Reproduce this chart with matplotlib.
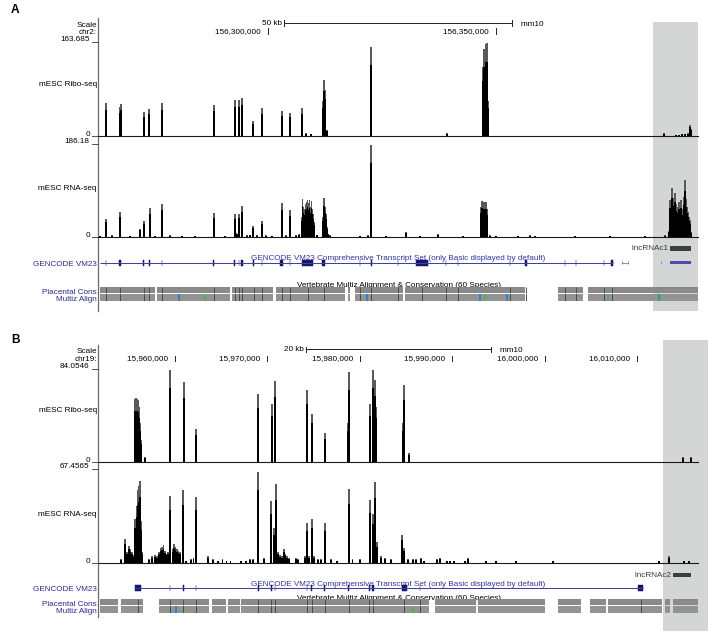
import matplotlib
matplotlib.use('Agg')
import matplotlib.pyplot as plt
from matplotlib.transforms import blended_transform_factory
from matplotlib.patches import Rectangle

plt.rcParams['font.family'] = ['Liberation Sans', 'DejaVu Sans']

# ======================= DATA =======================
# ---- Panel A : chr2 (positions in kb) ----
A_range = (156262.72, 156394.30)
A_ruler_ticks = [156300, 156350]
A_scale_start, A_scale_len = 156303.5, 50
A_highlight = (156384.5, 156394.4)
A_ribo_max = 163.685
A_rna_max = 186.18

A_ribo = [(156264.54, 57), (156267.55, 50), (156267.70, 56), (156272.81, 41), (156273.97, 47),
          (156276.82, 57), (156288.09, 53), (156292.70, 62), (156293.64, 62), (156294.30, 66),
          (156296.78, 26), (156298.68, 48), (156303.00, 44), (156304.82, 40), (156307.46, 48),
          (156308.27, 4), (156309.36, 3), (156311.95, 60), (156312.28, 97), (156312.61, 80),
          (156312.94, 10), (156322.65, 155), (156339.25, 4), (156347.15, 120), (156347.37, 151),
          (156347.59, 140), (156347.81, 160), (156348.03, 162), (156348.18, 60), (156386.78, 4),
          (156389.47, 2), (156390.13, 2), (156390.79, 3), (156391.45, 3), (156392.11, 4),
          (156392.55, 18), (156392.83, 12)]

A_rna = [(156264.54, 36), (156267.45, 40), (156267.61, 50), (156271.86, 16), (156272.81, 31),
         (156274.06, 58), (156276.82, 66), (156288.09, 48), (156292.70, 45), (156293.64, 46),
         (156294.30, 62), (156296.78, 22), (156298.68, 32), (156303.00, 68), (156304.82, 53),
         (156307.35, 40), (156307.57, 76), (156307.79, 60), (156308.01, 55), (156308.23, 66),
         (156308.45, 70), (156308.67, 74), (156308.89, 68), (156309.10, 73), (156309.32, 60),
         (156309.54, 71), (156309.76, 56), (156309.98, 45), (156310.20, 30),
         (156311.95, 40), (156312.22, 78), (156312.43, 60), (156312.65, 45), (156312.87, 20),
         (156313.16, 6), (156322.52, 100), (156322.65, 185), (156330.20, 10),
         (156346.71, 60), (156346.93, 72), (156347.15, 68), (156347.37, 70), (156347.59, 65),
         (156347.81, 70), (156348.03, 55),
         (156387.00, 3), (156387.87, 12), (156388.05, 45), (156388.16, 73), (156388.38, 60),
         (156388.60, 97), (156388.82, 70), (156389.00, 78), (156389.19, 88), (156389.35, 66),
         (156389.47, 65), (156389.62, 55), (156389.76, 60), (156389.95, 52), (156390.13, 70),
         (156390.35, 60), (156390.50, 66), (156390.64, 73), (156390.79, 55), (156391.01, 46),
         (156391.23, 80), (156391.37, 70), (156391.52, 114), (156391.73, 75), (156391.95, 60),
         (156392.10, 50), (156392.22, 45), (156392.35, 40), (156392.48, 33), (156392.65, 20),
         (156392.83, 10),
         # low background
         (156263.16, 2), (156265.79, 3), (156269.74, 2), (156275.22, 2), (156278.51, 3),
         (156281.14, 2), (156283.99, 2), (156290.57, 2), (156293.09, 8), (156293.31, 6),
         (156295.39, 3), (156296.05, 4), (156297.59, 3), (156299.56, 3), (156300.88, 2),
         (156303.95, 3), (156306.14, 3), (156306.80, 5), (156310.75, 4), (156313.60, 3),
         (156320.18, 2), (156321.93, 3), (156325.88, 2), (156333.33, 2), (156337.28, 5),
         (156342.76, 2), (156348.68, 3), (156350.00, 2), (156354.83, 2), (156357.46, 3),
         (156358.55, 2), (156367.33, 2), (156375.00, 2), (156382.68, 2)]

A_gene_span = (156263.16, 156375.66)
A_exons = [(156264.40, 156264.55), (156267.39, 156267.87), (156272.67, 156272.81), (156273.90, 156274.04),
           (156276.68, 156276.82), (156288.02, 156288.16), (156292.63, 156292.77), (156293.57, 156293.71),
           (156294.08, 156294.52), (156296.79, 156296.93), (156298.61, 156298.75), (156302.74, 156303.29),
           (156304.75, 156304.89), (156307.46, 156309.87), (156311.95, 156312.61), (156320.11, 156320.25),
           (156322.58, 156322.72), (156328.44, 156328.58), (156332.46, 156335.09), (156338.97, 156339.11),
           (156341.60, 156341.74), (156353.00, 156353.14), (156356.47, 156356.80), (156365.06, 156365.20),
           (156367.47, 156367.61), (156373.61, 156373.75), (156375.22, 156375.66)]
A_small_feature = (156377.63, 156378.95)
A_lnc_tick = 156386.12
A_lnc_span = (156388.16, 156392.77)
A_lnc_label = 'lncRNAc1'

A_cons = [(156263.16, 156275.22), (156275.66, 156291.67), (156292.11, 156301.10), (156301.75, 156316.89),
          (156317.54, 156317.98), (156319.08, 156329.61), (156330.04, 156356.36), (156363.60, 156369.08),
          (156370.18, 156394.30)]
A_blue = [156280.48, 156321.64, 156346.49, 156352.35, 156385.81]
A_green = [156286.18, 156347.59, 156374.50, 156386.07]

# ---- Panel B : chr19 (positions in kb) ----
B_range = (15951.67, 16016.60)
B_ruler_ticks = [15960, 15970, 15980, 15990, 16000, 16010]
B_scale_start, B_scale_len = 15974.18, 20
B_highlight = (16012.78, 16017.7)
B_ribo_max = 84.0546
B_rna_max = 67.4565

B_ribo = [(15955.64, 57), (15955.75, 58), (15955.85, 57), (15955.96, 56), (15956.07, 50),
          (15956.18, 35), (15956.29, 20), (15956.72, 4), (15959.46, 83), (15960.94, 72.5),
          (15962.27, 30), (15969.02, 61), (15970.47, 52), (15970.82, 73), (15974.29, 65),
          (15974.80, 43.5), (15976.20, 26), (15978.72, 35), (15978.80, 81), (15981.07, 52),
          (15981.43, 83), (15981.61, 74), (15981.72, 50), (15984.64, 35), (15984.78, 70),
          (15985.29, 8), (16015.01, 4), (16015.85, 4)]

B_rna = [(15954.12, 3), (15954.62, 17.5), (15954.81, 8), (15954.99, 12.7), (15955.16, 10.5),
         (15955.38, 8.4), (15955.51, 6), (15955.70, 31.5), (15955.85, 41), (15956.00, 52.5),
         (15956.10, 55), (15956.21, 59), (15956.32, 30), (15956.46, 8),
         (15957.19, 3), (15957.51, 5), (15957.84, 6), (15958.08, 5), (15958.27, 8), (15958.43, 11),
         (15958.59, 12), (15958.76, 13), (15958.92, 9), (15959.08, 7), (15959.24, 8),
         (15959.49, 48), (15959.73, 10), (15959.89, 14), (15960.05, 12), (15960.22, 10),
         (15960.38, 9), (15960.54, 8), (15960.90, 52.5), (15961.19, 2), (15961.73, 3),
         (15962.00, 4), (15962.27, 47.5), (15963.57, 5), (15964.11, 3), (15964.65, 2),
         (15965.14, 3), (15965.57, 2), (15966.01, 2), (15967.11, 2), (15967.72, 2),
         (15968.12, 3), (15968.44, 3), (15969.02, 65.4), (15969.60, 4), (15970.39, 44.4),
         (15970.68, 25), (15970.90, 56.8), (15971.15, 8), (15971.36, 6), (15971.58, 5),
         (15971.76, 10), (15971.91, 7), (15972.12, 5), (15972.34, 4), (15973.10, 4),
         (15973.31, 3), (15974.07, 5), (15974.29, 29), (15974.50, 5), (15974.80, 31.5),
         (15975.04, 5), (15975.48, 3), (15975.80, 3), (15976.20, 29), (15976.88, 3),
         (15977.53, 2), (15978.80, 53), (15979.21, 3), (15980.02, 3), (15981.07, 45),
         (15981.43, 35), (15981.68, 58.4), (15981.86, 15), (15982.30, 5), (15982.73, 4),
         (15983.41, 3), (15984.57, 20.5), (15984.78, 11), (15985.22, 3), (15985.76, 3),
         (15986.08, 3), (15986.59, 4), (15986.95, 2), (15988.39, 3), (15988.65, 4),
         (15989.44, 2), (15989.80, 2), (15990.23, 2), (15991.39, 2), (15991.71, 4),
         (15993.69, 2), (15994.77, 2), (15996.94, 2), (16000.91, 2), (16012.38, 2),
         (16013.47, 5), (16015.09, 2), (16015.63, 2)]

B_gene_span = (15955.67, 16010.68)
B_exons = [(15955.67, 15956.32), (15959.42, 15959.50), (15960.86, 15960.94), (15962.23, 15962.31),
           (15968.98, 15969.06), (15970.38, 15970.46), (15970.78, 15970.86), (15974.25, 15974.33),
           (15974.76, 15974.84), (15976.16, 15976.24), (15978.76, 15978.84), (15980.99, 15981.07),
           (15981.37, 15981.59), (15984.57, 15985.08), (15986.48, 15986.56), (16010.14, 16010.68)]
B_lnc_span = (16013.90, 16015.85)
B_lnc_label = 'lncRNAc2'

B_cons = [(15951.88, 15953.86), (15954.12, 15956.50), (15958.27, 15963.68), (15963.97, 15965.49),
          (15965.70, 15967.03), (15967.14, 15987.49), (15988.14, 15992.58), (15992.79, 16000.04),
          (16001.45, 16003.94), (16004.92, 16006.65), (16006.87, 16012.68), (16013.04, 16013.58),
          (16013.90, 16016.60)]
B_blue = [15960.08]
B_green = [15985.79]

# ======================= LAYOUT / STYLE =======================
W, H = 708, 631
FS = 5.85
NAVY = '#2b2b8c'
GENE_LINE = '#4040a0'
EXON = '#16166e'
HILITE = '#d4d6d6'

fig = plt.figure(figsize=(W / 100, H / 100), dpi=100)
ov = fig.add_axes([0, 0, 1, 1])
ov.set_xlim(0, W)
ov.set_ylim(H, 0)
ov.axis('off')

X0, X1 = 98, 698


def add_ax(ytop, ybot, xr, yr):
    ax = fig.add_axes([X0 / W, 1 - ybot / H, (X1 - X0) / W, (ybot - ytop) / H])
    ax.set_xlim(*xr)
    ax.set_ylim(*yr)
    ax.axis('off')
    return ax


def T(x, yc, s, ha='right', color='black', size=FS, **kw):
    ov.text(x, yc + size * 100 / 72 * 0.358, s, ha=ha, va='baseline', fontsize=size,
            color=color, **kw)


def draw_signal(ax, pairs, w):
    xs = [p for p, v in pairs]
    vs = [v for p, v in pairs]
    ax.bar(xs, vs, width=w, color='#5a5a5a', linewidth=0)
    ax.bar(xs, [v * 0.8 for v in vs], width=w, color='black', linewidth=0)
    ax.axhline(0, color='#1a1a1a', lw=0.8, clip_on=False)


def value_labels(ytop, ybot, vmax):
    T(89.5, ytop - 4, vmax)
    ov.plot([92, 97.5], [ytop, ytop], color='#333', lw=0.6)
    T(90.5, ybot - 3, '0')
    ov.plot([92, 97.5], [ybot, ybot], color='#333', lw=0.6)


def draw_gene(ax, span, exons):
    ax.plot(span, [0, 0], color=GENE_LINE, lw=0.75, solid_capstyle='butt')
    for s, e in exons:
        ax.add_patch(Rectangle((s, -2.8), e - s, 5.6, facecolor=EXON, edgecolor=EXON, lw=0.35))


def draw_cons(ax, segs, stripes, blue, green):
    segl = [(s, e - s) for s, e in segs]
    ax.broken_barh(segl, (0.3, 6.1), facecolors='#8a8a8a')
    ax.broken_barh(segl, (7.3, 6.4), facecolors='#939393')
    ax.vlines(stripes, 0.3, 6.4, colors='#505050', lw=0.7)
    ax.vlines(stripes, 7.3, 13.7, colors='#454545', lw=0.7)
    ax.vlines(blue, 7.3, 13.7, colors='#2a7fd0', lw=1.3)
    ax.vlines(green, 7.3, 13.7, colors='#4cb050', lw=1.1)


def panel(label, ly, xr, ruler, chrom, ruler_y, scale, scale_y, scale_txt, hil, hil_y,
          sep_y, ribo, ribo_max, ribo_y, rna, rna_max, rna_y, bw,
          gene_y, gene_span, exons, lnc_label, lnc_span, lnc_y, cons_y, cons, blue, green,
          title_y, vert_y):
    ax_r = add_ax(ribo_y[0], ribo_y[1], xr, (0, ribo_max))
    bt = blended_transform_factory(ax_r.transData, ov.transData)
    ov.add_patch(Rectangle((hil[0], hil_y[0]), hil[1] - hil[0], hil_y[1] - hil_y[0],
                           transform=bt, facecolor=HILITE, edgecolor='none', zorder=0,
                           clip_on=False))
    ov.text(11, ly, label, fontsize=8.6, weight='bold', ha='left', va='baseline')
    ov.plot([X0, X0], sep_y, color='#6a6a6a', lw=0.9)
    T(96.8, scale_y + 1, 'Scale')
    T(96.8, ruler_y, chrom)
    s0, s1 = scale[0], scale[0] + scale[1]
    ov.plot([s0, s1], [scale_y, scale_y], color='#222', lw=0.7, transform=bt)
    for sx in (s0, s1):
        ov.plot([sx, sx], [scale_y - 2.6, scale_y + 2.6], color='#222', lw=0.7, transform=bt)
    ov.text(s0, scale_y + 2.1, scale_txt + ' ', ha='right', va='baseline', fontsize=FS,
            transform=bt)
    ov.text(s1, scale_y + 2.6, '    mm10', ha='left', va='baseline', fontsize=FS,
            transform=bt)
    for t in ruler:
        ov.plot([t, t], [ruler_y - 2.8, ruler_y + 2.8], color='#222', lw=0.7, transform=bt)
        ov.text(t, ruler_y + 2.1, f'{int(round(t * 1000)):,}' + '   ', ha='right',
                va='baseline', fontsize=FS, transform=bt)
    draw_signal(ax_r, ribo, bw)
    value_labels(ribo_y[0], ribo_y[1], f'{ribo_max:g}')
    T(96.8, (ribo_y[0] + ribo_y[1]) / 2 - 6, 'mESC Ribo-seq')
    ax_n = add_ax(rna_y[0], rna_y[1], xr, (0, rna_max))
    draw_signal(ax_n, rna, bw)
    value_labels(rna_y[0], rna_y[1], f'{rna_max:g}')
    T(96.8, (rna_y[0] + rna_y[1]) / 2 - 3, 'mESC RNA-seq')
    ax_g = add_ax(gene_y - 6, gene_y + 6, xr, (-6, 6))
    draw_gene(ax_g, gene_span, exons)
    T(96.8, gene_y, 'GENCODE VM23', color=NAVY)
    T(398.5, title_y, 'GENCODE VM23 Comprehensive Transcript Set (only Basic displayed by default)',
      ha='center', color='#34349a')
    ov.add_patch(Rectangle((lnc_span[0], lnc_y - 2.2), lnc_span[1] - lnc_span[0], 4.4,
                           transform=bt, facecolor='#3e3e3e', edgecolor='none'))
    ov.text(lnc_span[0], lnc_y + 2.1, lnc_label + ' ', ha='right', va='baseline',
            fontsize=FS, color='#3a3a3a', transform=bt)
    ax_c = add_ax(cons_y, cons_y + 14, xr, (14, 0))
    stripes = [(s + e) / 2 for s, e in exons]
    draw_cons(ax_c, cons, stripes, blue, green)
    T(399, vert_y, 'Vertebrate Multiz Alignment & Conservation (60 Species)', ha='center')
    T(96.8, cons_y + 4, 'Placental Cons', color=NAVY)
    T(96.8, cons_y + 10.7, 'Multiz Align', color=NAVY)
    return ax_g


# ---------------- Panel A ----------------
axgA = panel('A', 12.8, A_range, A_ruler_ticks, 'chr2:', 31, (A_scale_start, A_scale_len), 23,
             '50 kb', A_highlight, (21.7, 310.7), (18, 310.5),
             A_ribo, A_ribo_max, (42, 135.7), A_rna, A_rna_max, (144, 236.7), 0.42,
             262.7, A_gene_span, A_exons, A_lnc_label, A_lnc_span, 248.3, 287, A_cons,
             A_blue, A_green, 256.7, 284)
axgA.plot(A_small_feature, [0, 0], color='#7a7ac0', lw=0.6)
axgA.vlines(A_small_feature, -1.6, 1.6, colors='#7a7ac0', lw=0.6)
axgA.vlines([A_lnc_tick], -1.5, 1.5, colors='#7a7ac0', lw=0.6)
axgA.add_patch(Rectangle((A_lnc_span[0], -1.7), A_lnc_span[1] - A_lnc_span[0], 3.4,
                         facecolor='#4c4cac', edgecolor='none'))

# ---------------- Panel B ----------------
panel('B', 343.3, B_range, B_ruler_ticks, 'chr19:', 358.3, (B_scale_start, B_scale_len), 349.3,
      '20 kb', B_highlight, (340, 631), (345, 617),
      B_ribo, B_ribo_max, (369, 461.7), B_rna, B_rna_max, (469, 563.3), 0.2,
      588.3, B_gene_span, B_exons, B_lnc_label, B_lnc_span, 575, 599, B_cons,
      B_blue, B_green, 582.7, 596.7)

fig.savefig('out.png', dpi=100)
